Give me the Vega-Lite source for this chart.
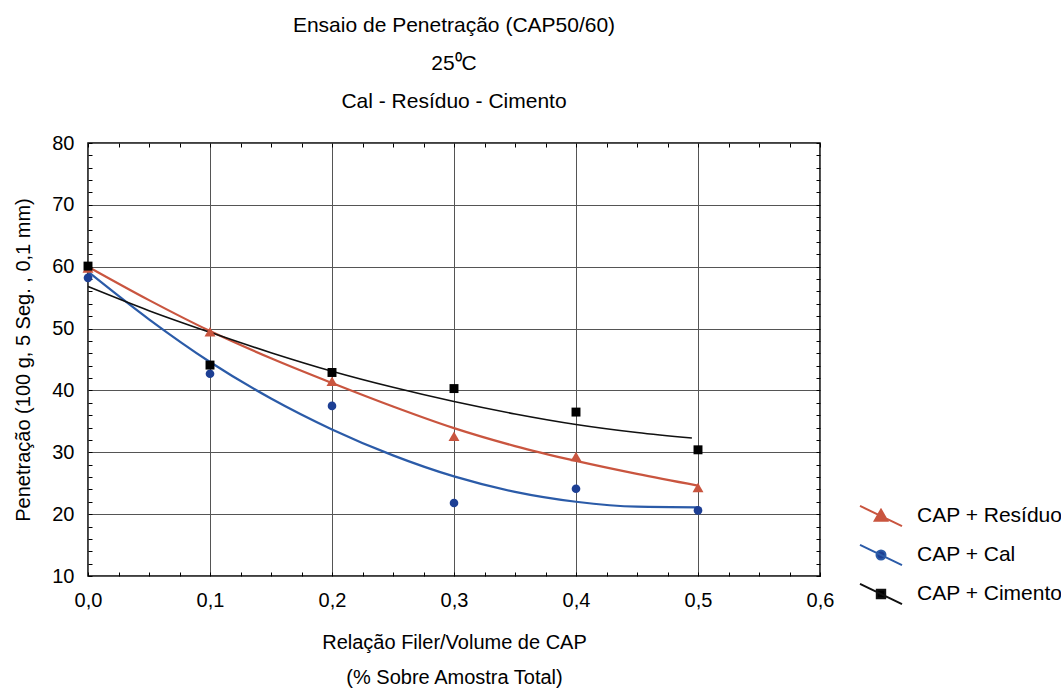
{
  "$schema": "https://vega.github.io/schema/vega-lite/v6.json",
  "width": 732,
  "height": 433,
  "autosize": {"type": "none"},
  "padding": {"left": 88, "top": 143, "right": 241, "bottom": 119},
  "background": "white",
  "config": {
    "font": "Liberation Sans",
    "view": {"stroke": "#000000", "strokeWidth": 1.5},
    "axis": {
      "domain": false,
      "tickColor": "#000000",
      "tickWidth": 1,
      "tickSize": -4,
      "labelFont": "Liberation Sans",
      "labelFontSize": 20,
      "labelColor": "#000000",
      "titleFont": "Liberation Sans",
      "titleFontSize": 20,
      "titleFontWeight": "normal",
      "titleColor": "#000000",
      "gridColor": "#555555",
      "gridWidth": 1
    }
  },
  "title": {
    "text": ["Ensaio de Penetração (CAP50/60)", "25⁰C", "Cal - Resíduo - Cimento"],
    "fontSize": 21,
    "fontWeight": "normal",
    "font": "Liberation Sans",
    "color": "#000000",
    "lineHeight": 38,
    "offset": 21,
    "anchor": "middle"
  },
  "datasets": {
    "obs": [
      {"serie": "CAP + Resíduo", "x": 0.0, "y": 59.8},
      {"serie": "CAP + Resíduo", "x": 0.1, "y": 49.5},
      {"serie": "CAP + Resíduo", "x": 0.2, "y": 41.5},
      {"serie": "CAP + Resíduo", "x": 0.3, "y": 32.6},
      {"serie": "CAP + Resíduo", "x": 0.4, "y": 29.3},
      {"serie": "CAP + Resíduo", "x": 0.5, "y": 24.3},
      {"serie": "CAP + Cal", "x": 0.0, "y": 58.2},
      {"serie": "CAP + Cal", "x": 0.1, "y": 42.7},
      {"serie": "CAP + Cal", "x": 0.2, "y": 37.5},
      {"serie": "CAP + Cal", "x": 0.3, "y": 21.8},
      {"serie": "CAP + Cal", "x": 0.4, "y": 24.1},
      {"serie": "CAP + Cal", "x": 0.5, "y": 20.6},
      {"serie": "CAP + Cimento", "x": 0.0, "y": 60.1},
      {"serie": "CAP + Cimento", "x": 0.1, "y": 44.1},
      {"serie": "CAP + Cimento", "x": 0.2, "y": 42.9},
      {"serie": "CAP + Cimento", "x": 0.3, "y": 40.3},
      {"serie": "CAP + Cimento", "x": 0.4, "y": 36.5},
      {"serie": "CAP + Cimento", "x": 0.5, "y": 30.4}
    ],
    "fit": [
      {"serie": "CAP + Resíduo", "x": 0.0, "y": 60.0},
      {"serie": "CAP + Resíduo", "x": 0.05, "y": 54.6},
      {"serie": "CAP + Resíduo", "x": 0.1, "y": 49.6},
      {"serie": "CAP + Resíduo", "x": 0.15, "y": 45.2},
      {"serie": "CAP + Resíduo", "x": 0.2, "y": 41.2},
      {"serie": "CAP + Resíduo", "x": 0.25, "y": 37.4},
      {"serie": "CAP + Resíduo", "x": 0.3, "y": 33.9},
      {"serie": "CAP + Resíduo", "x": 0.35, "y": 31.0},
      {"serie": "CAP + Resíduo", "x": 0.4, "y": 28.6},
      {"serie": "CAP + Resíduo", "x": 0.45, "y": 26.5},
      {"serie": "CAP + Resíduo", "x": 0.5, "y": 24.6},
      {"serie": "CAP + Cal", "x": 0.0, "y": 59.2},
      {"serie": "CAP + Cal", "x": 0.05, "y": 51.5},
      {"serie": "CAP + Cal", "x": 0.1, "y": 44.6},
      {"serie": "CAP + Cal", "x": 0.15, "y": 38.7},
      {"serie": "CAP + Cal", "x": 0.2, "y": 33.7},
      {"serie": "CAP + Cal", "x": 0.25, "y": 29.5},
      {"serie": "CAP + Cal", "x": 0.3, "y": 26.1},
      {"serie": "CAP + Cal", "x": 0.35, "y": 23.6},
      {"serie": "CAP + Cal", "x": 0.4, "y": 22.0},
      {"serie": "CAP + Cal", "x": 0.45, "y": 21.2},
      {"serie": "CAP + Cal", "x": 0.5, "y": 21.1},
      {"serie": "CAP + Cimento", "x": 0.0, "y": 56.8},
      {"serie": "CAP + Cimento", "x": 0.05, "y": 52.9},
      {"serie": "CAP + Cimento", "x": 0.1, "y": 49.4},
      {"serie": "CAP + Cimento", "x": 0.15, "y": 46.1},
      {"serie": "CAP + Cimento", "x": 0.2, "y": 43.1},
      {"serie": "CAP + Cimento", "x": 0.25, "y": 40.5},
      {"serie": "CAP + Cimento", "x": 0.3, "y": 38.2},
      {"serie": "CAP + Cimento", "x": 0.35, "y": 36.2},
      {"serie": "CAP + Cimento", "x": 0.4, "y": 34.5},
      {"serie": "CAP + Cimento", "x": 0.45, "y": 33.2},
      {"serie": "CAP + Cimento", "x": 0.495, "y": 32.3}
    ]
  },
  "layer": [
    {
      "data": {"name": "fit"},
      "transform": [{"filter": "datum.serie === 'CAP + Resíduo'"}],
      "mark": {"type": "line", "interpolate": "monotone", "color": "#c9553f", "strokeWidth": 2.2},
      "encoding": {
        "x": {
          "field": "x", "type": "quantitative",
          "scale": {"domain": [0, 0.6], "nice": false, "zero": false},
          "axis": {
            "orient": "bottom",
            "values": [0,0.025,0.05,0.075,0.1,0.125,0.15,0.175,0.2,0.225,0.25,0.275,0.3,0.325,0.35,0.375,0.4,0.425,0.45,0.475,0.5,0.525,0.55,0.575,0.6],
            "labelExpr": "abs(datum.value*10-round(datum.value*10))<0.001 ? replace(format(datum.value,'.1f'),'.',',') : ''",
            "labelPadding": 18,
            "labelFlush": false,
            "labelOverlap": false,
            "grid": true,
            "gridOpacity": {"condition": {"test": "abs(datum.value*10-round(datum.value*10))<0.001", "value": 1}, "value": 0},
            "title": ["Relação Filer/Volume de CAP", "(% Sobre Amostra Total)"],
            "titleLineHeight": 35,
            "titlePadding": 22
          }
        },
        "y": {
          "field": "y", "type": "quantitative",
          "scale": {"domain": [10, 80], "nice": false, "zero": false},
          "axis": {
            "orient": "left",
            "values": [10,12,14,16,18,20,22,24,26,28,30,32,34,36,38,40,42,44,46,48,50,52,54,56,58,60,62,64,66,68,70,72,74,76,78,80],
            "labelExpr": "abs(datum.value/10-round(datum.value/10))<0.001 ? format(datum.value,'d') : ''",
            "labelPadding": 18,
            "labelFlush": false,
            "labelOverlap": false,
            "grid": true,
            "gridOpacity": {"condition": {"test": "abs(datum.value/10-round(datum.value/10))<0.001", "value": 1}, "value": 0},
            "title": "Penetração (100 g, 5 Seg. , 0,1 mm)",
            "titlePadding": 18
          }
        }
      }
    },
    {
      "data": {"name": "fit"},
      "transform": [{"filter": "datum.serie === 'CAP + Cal'"}],
      "mark": {"type": "line", "interpolate": "monotone", "color": "#2b5ba8", "strokeWidth": 2.2},
      "encoding": {
        "x": {"field": "x", "type": "quantitative", "axis": null},
        "y": {"field": "y", "type": "quantitative", "axis": null}
      }
    },
    {
      "data": {"name": "fit"},
      "transform": [{"filter": "datum.serie === 'CAP + Cimento'"}],
      "mark": {"type": "line", "interpolate": "monotone", "color": "#111111", "strokeWidth": 1.6},
      "encoding": {
        "x": {"field": "x", "type": "quantitative", "axis": null},
        "y": {"field": "y", "type": "quantitative", "axis": null}
      }
    },
    {
      "data": {"name": "obs"},
      "transform": [{"filter": "datum.serie === 'CAP + Resíduo'"}],
      "mark": {"type": "point", "filled": true, "shape": "triangle-up", "size": 120, "color": "#c9553f", "opacity": 1},
      "encoding": {
        "x": {
          "field": "x", "type": "quantitative",
          "axis": {
            "orient": "top",
            "values": [0,0.025,0.05,0.075,0.1,0.125,0.15,0.175,0.2,0.225,0.25,0.275,0.3,0.325,0.35,0.375,0.4,0.425,0.45,0.475,0.5,0.525,0.55,0.575,0.6],
            "labels": false, "grid": false, "title": null
          }
        },
        "y": {
          "field": "y", "type": "quantitative",
          "axis": {
            "orient": "right",
            "values": [10,12,14,16,18,20,22,24,26,28,30,32,34,36,38,40,42,44,46,48,50,52,54,56,58,60,62,64,66,68,70,72,74,76,78,80],
            "labels": false, "grid": false, "title": null
          }
        }
      }
    },
    {
      "data": {"name": "obs"},
      "transform": [{"filter": "datum.serie === 'CAP + Cal'"}],
      "mark": {"type": "point", "filled": true, "shape": "circle", "size": 75, "color": "#1d3f94", "opacity": 1},
      "encoding": {
        "x": {"field": "x", "type": "quantitative", "axis": null},
        "y": {"field": "y", "type": "quantitative", "axis": null}
      }
    },
    {
      "data": {"name": "obs"},
      "transform": [{"filter": "datum.serie === 'CAP + Cimento'"}],
      "mark": {"type": "point", "filled": true, "shape": "square", "size": 80, "color": "#000000", "opacity": 1},
      "encoding": {
        "x": {"field": "x", "type": "quantitative", "axis": null},
        "y": {"field": "y", "type": "quantitative", "axis": null}
      }
    },
    {
      "data": {"name": "obs"},
      "mark": {"type": "point", "filled": true, "opacity": 0},
      "encoding": {
        "x": {"field": "x", "type": "quantitative", "axis": null},
        "y": {"field": "y", "type": "quantitative", "axis": null},
        "fill": {
          "field": "serie", "type": "nominal",
          "scale": {"domain": ["CAP + Resíduo", "CAP + Cal", "CAP + Cimento"], "range": ["#c9553f", "#1d3f94", "#000000"]},
          "legend": {"orient": "none", "legendX": 777, "legendY": 357, "title": null, "symbolSize": 900, "symbolStrokeWidth": 2, "symbolOpacity": 1, "labelFontSize": 21, "labelFont": "Liberation Sans", "labelColor": "#000000", "labelOffset": 20, "rowPadding": 8, "padding": 0}
        },
        "stroke": {
          "field": "serie", "type": "nominal",
          "scale": {"domain": ["CAP + Resíduo", "CAP + Cal", "CAP + Cimento"], "range": ["#c9553f", "#2b5ba8", "#111111"]},
          "legend": {"orient": "none", "legendX": 777, "legendY": 357, "title": null, "symbolSize": 900, "symbolStrokeWidth": 2, "symbolOpacity": 1, "labelFontSize": 21, "labelFont": "Liberation Sans", "labelColor": "#000000", "labelOffset": 20, "rowPadding": 8, "padding": 0}
        },
        "shape": {
          "field": "serie", "type": "nominal",
          "scale": {"domain": ["CAP + Resíduo", "CAP + Cal", "CAP + Cimento"], "range": [
            "M-1.4,-0.67L1.4,0.67M-0.42,0.32L0,-0.42L0.42,0.32Z",
            "M-1.4,-0.67L1.4,0.67M-0.3,0A0.3,0.3,0,1,1,0.3,0A0.3,0.3,0,1,1,-0.3,0Z",
            "M-1.4,-0.67L1.4,0.67M-0.28,-0.28L0.28,-0.28L0.28,0.28L-0.28,0.28Z"
          ]},
          "legend": {"orient": "none", "legendX": 777, "legendY": 357, "title": null, "symbolSize": 900, "symbolStrokeWidth": 2, "symbolOpacity": 1, "labelFontSize": 21, "labelFont": "Liberation Sans", "labelColor": "#000000", "labelOffset": 20, "rowPadding": 8, "padding": 0}
        }
      }
    }
  ]
}
